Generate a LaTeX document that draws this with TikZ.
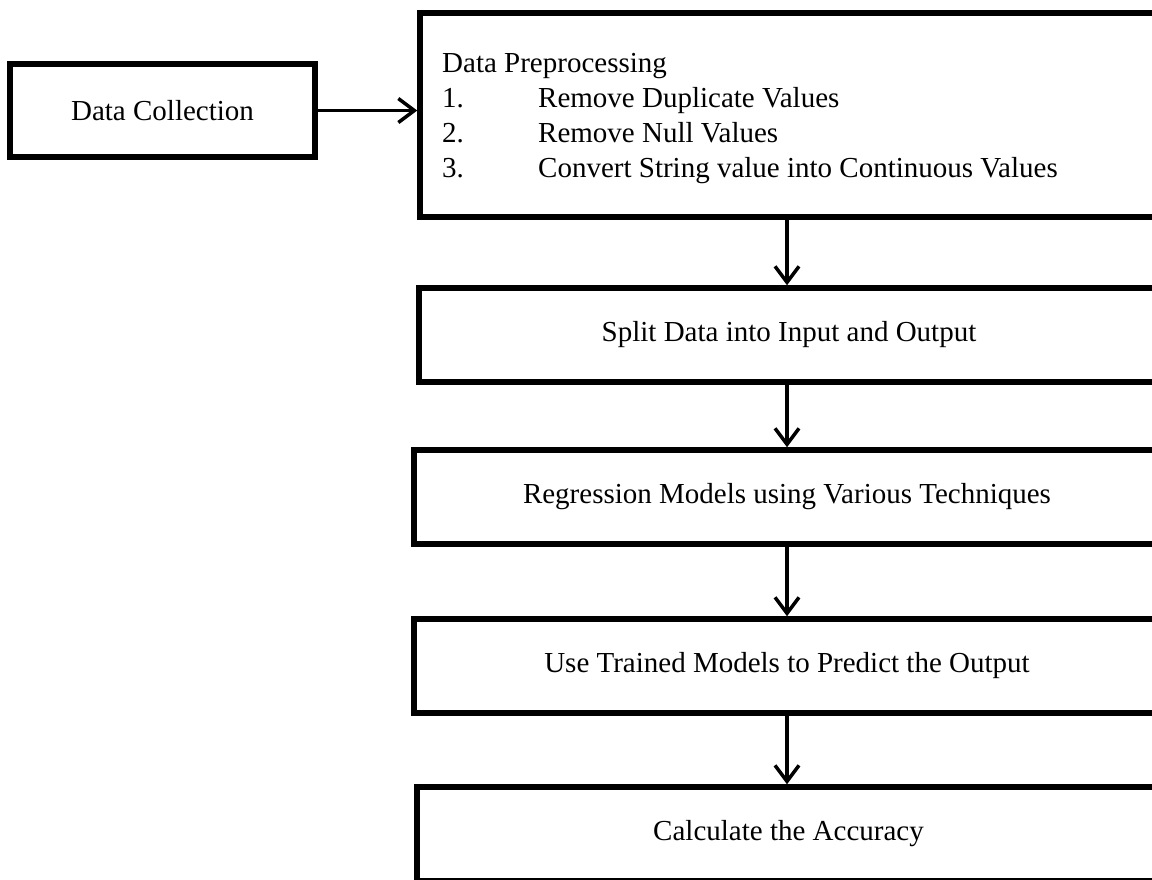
\documentclass[tikz,border=0pt]{standalone}
\usepackage{fontspec}
\setmainfont{Liberation Serif}
\usetikzlibrary{arrows.meta}
\begin{document}
\begin{tikzpicture}[x=1pt,y=-1pt,
  box/.style={draw=black, line width=5.5pt, rectangle, inner sep=0pt,
    font=\fontsize{29}{35}\selectfont, align=center},
  boxtext/.style={inner sep=0pt, font=\fontsize{29}{35}\selectfont},
  flow/.style={line width=3.5pt, -{Straight Barb[length=16pt,width=24pt]}}]
\useasboundingbox (0,0) rectangle (1152,879);
\clip (0,0) rectangle (1152,879);

% process boxes
\node[box, minimum width=305pt, minimum height=93pt] (collect) at (162.5,110.5) {Data Collection};
\node[box, minimum width=739pt, minimum height=204pt] (prep) at (789.5,115) {};
\node[boxtext, anchor=base west] (preptext) at (442,72.5) {%
  \begin{tabular}[t]{@{}l@{}}
    Data Preprocessing\\
    \makebox[96pt][l]{1.}Remove Duplicate Values\\
    \makebox[96pt][l]{2.}Remove Null Values\\
    \makebox[96pt][l]{3.}Convert String value into Continuous Values
  \end{tabular}};
\node[box, minimum width=740pt, minimum height=94pt] (split) at (789,335) {Split Data into Input and Output};
\node[box, minimum width=746pt, minimum height=94pt] (regress) at (787,497) {Regression Models using Various Techniques};
\node[box, minimum width=746pt, minimum height=94pt] (predict) at (787,666) {Use Trained Models to Predict the Output};
\node[box, minimum width=743pt, minimum height=94pt] (accuracy) at (788.5,834) {Calculate the Accuracy};

% connectors
\coordinate (ax) at (787,0);
\draw[flow] (collect.east) -- (collect.east -| prep.west);
\draw[flow] (prep.south -| ax) -- (split.north -| ax);
\draw[flow] (split.south -| ax) -- (regress.north -| ax);
\draw[flow] (regress.south -| ax) -- (predict.north -| ax);
\draw[flow] (predict.south -| ax) -- (accuracy.north -| ax);
\end{tikzpicture}
\end{document}
